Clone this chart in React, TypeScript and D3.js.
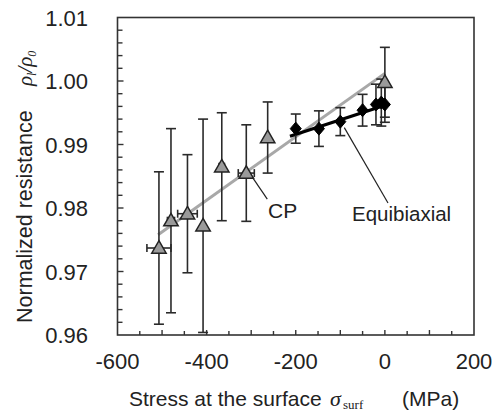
import React from "react";
import * as d3 from "d3";

const cpX = [-507, -480, -443, -408, -366, -311, -263, 0];
const cpY = [0.9737, 0.978, 0.9791, 0.9772, 0.9865, 0.9855, 0.9911, 0.9998];
const cpYErr = [0.012, 0.0145, 0.0093, 0.0168, 0.0085, 0.0076, 0.0056, 0.0055];
const cpXErr = [27, 8, 22, 0, 6, 18, 0, 0];

const eqX = [-200, -148, -100, -50, -20, -8, 0];
const eqY = [0.9925, 0.9925, 0.9936, 0.9954, 0.9963, 0.9966, 0.9963];
const eqYErr = [0.0023, 0.0028, 0.0022, 0.0025, 0.0032, 0.0037, 0.0028];

const cpFit = [[-509, 0.9758], [0, 1.0012]];
const eqFit = [[-213, 0.9913], [-3, 0.9961]];

const xTickLabels = [-600, -400, -200, 0, 200];
const yTickLabels = [0.96, 0.97, 0.98, 0.99, 1.0, 1.01];

export default function App() {
  const W = 497, H = 412;
  const x = d3.scaleLinear().domain([-600, 200]).range([117.5, 474]);
  const y = d3.scaleLinear().domain([0.96, 1.01]).range([335, 17.5]);
  const line = d3.line<number[]>().x(d => x(d[0])).y(d => y(d[1]));
  const font = "'Liberation Sans', Arial, sans-serif";
  const serif = "'Liberation Serif', 'Times New Roman', serif";
  const ec = "#2a2a2a";
  const cap = 5;

  const xMinor = d3.range(-550, 200, 50);
  const yMinor = d3.range(0, 26).map(i => 0.96 + i * 0.002).filter(v => v > 0.9605 && v < 1.0095);

  const tri = d3.symbol().type(d3.symbolTriangle).size(90)();
  const dia = (s: number) => `M0,${-s}L${s * 0.85},0L0,${s}L${-s * 0.85},0Z`;

  return (
    <svg width={W} height={H} style={{ position: "absolute", left: 0, top: 0, background: "#fff" }}>
      <rect x={x(-600)} y={y(1.01)} width={x(200) - x(-600)} height={y(0.96) - y(1.01)} fill="none" stroke="#333" strokeWidth={1.6} />
      {xMinor.map(v => (
        <line key={"xt" + v} x1={x(v)} x2={x(v)} y1={y(0.96)} y2={y(0.96) - (v % 100 === 0 ? 5 : 4)} stroke="#333" strokeWidth={1.4} />
      ))}
      {yMinor.map(v => (
        <line key={"yt" + v} x1={x(-600)} x2={x(-600) + (Math.abs(v * 100 - Math.round(v * 100)) < 1e-6 ? 6 : 5)} y1={y(v)} y2={y(v)} stroke="#333" strokeWidth={1.4} />
      ))}
      {xTickLabels.map(v => (
        <text key={"xl" + v} x={x(v)} y={369} textAnchor="middle" fontFamily={font} fontSize={22} fill="#222">{v}</text>
      ))}
      {yTickLabels.map(v => (
        <text key={"yl" + v} x={88} y={y(v) + 8} textAnchor="end" fontFamily={font} fontSize={22} fill="#222">{v.toFixed(2)}</text>
      ))}

      <path d={line(cpFit) || ""} stroke="#a8a8a8" strokeWidth={3} fill="none" />
      <path d={line(eqFit) || ""} stroke="#000" strokeWidth={3.2} fill="none" />

      {cpX.map((v, i) => (
        <g key={"ce" + i} stroke={ec} strokeWidth={1.6}>
          <line x1={x(v)} x2={x(v)} y1={y(cpY[i] + cpYErr[i])} y2={y(cpY[i] - cpYErr[i])} />
          <line x1={x(v) - cap} x2={x(v) + cap} y1={y(cpY[i] + cpYErr[i])} y2={y(cpY[i] + cpYErr[i])} />
          <line x1={x(v) - cap} x2={x(v) + cap} y1={y(cpY[i] - cpYErr[i])} y2={y(cpY[i] - cpYErr[i])} />
          {cpXErr[i] > 0 && (
            <>
              <line x1={x(v - cpXErr[i])} x2={x(v + cpXErr[i])} y1={y(cpY[i])} y2={y(cpY[i])} />
              <line x1={x(v - cpXErr[i])} x2={x(v - cpXErr[i])} y1={y(cpY[i]) - 4} y2={y(cpY[i]) + 4} />
              <line x1={x(v + cpXErr[i])} x2={x(v + cpXErr[i])} y1={y(cpY[i]) - 4} y2={y(cpY[i]) + 4} />
            </>
          )}
        </g>
      ))}
      {eqX.map((v, i) => (
        <g key={"ee" + i} stroke={ec} strokeWidth={1.6}>
          <line x1={x(v)} x2={x(v)} y1={y(eqY[i] + eqYErr[i])} y2={y(eqY[i] - eqYErr[i])} />
          <line x1={x(v) - cap} x2={x(v) + cap} y1={y(eqY[i] + eqYErr[i])} y2={y(eqY[i] + eqYErr[i])} />
          <line x1={x(v) - cap} x2={x(v) + cap} y1={y(eqY[i] - eqYErr[i])} y2={y(eqY[i] - eqYErr[i])} />
        </g>
      ))}

      {eqX.map((v, i) => (
        <path key={"em" + i} d={dia(6.5)} transform={`translate(${x(v)},${y(eqY[i])})`} fill="#000" stroke="#000" strokeWidth={1} />
      ))}
      {cpX.map((v, i) => (
        <path key={"cm" + i} d={tri || ""} transform={`translate(${x(v)},${y(cpY[i]) + 1})`} fill="#9a9a9a" stroke="#222" strokeWidth={1.5} />
      ))}

      <line x1={x(-311) + 6} y1={y(0.9855) + 4} x2={x(-311) + 21} y2={y(0.9855) + 26} stroke="#222" strokeWidth={1.2} />
      <text x={268} y={218} fontFamily={font} fontSize={21} fill="#222">CP</text>
      <line x1={x(-100) + 4} y1={y(0.9936) + 6} x2={388} y2={203} stroke="#222" strokeWidth={1.2} />
      <text x={352} y={221} fontFamily={font} fontSize={20.5} fill="#222">Equibiaxial</text>

      <text x={129} y={406} fontFamily={font} fontSize={21} fill="#222">Stress at the surface</text>
      <text x={330} y={406} fontFamily={serif} fontSize={22} fontStyle="italic" fill="#222">σ</text>
      <text x={343} y={409} fontFamily={serif} fontSize={13} fill="#222">surf</text>
      <text x={402} y={406} fontFamily={font} fontSize={21} fill="#222">(MPa)</text>

      <g transform="translate(32,323) rotate(-90)">
        <text x={0} y={0} fontFamily={font} fontSize={21.5} fill="#222">Normalized resistance</text>
      </g>
      <g transform="translate(32,86) rotate(-90)">
        <text x={0} y={0} fontFamily={serif} fontSize={21} fontStyle="italic" fill="#222">
          ρ<tspan fontSize={12} dy={4}>l</tspan><tspan fontSize={21} dy={-4}>/ρ</tspan><tspan fontSize={12} dy={4}>0</tspan>
        </text>
      </g>
    </svg>
  );
}
